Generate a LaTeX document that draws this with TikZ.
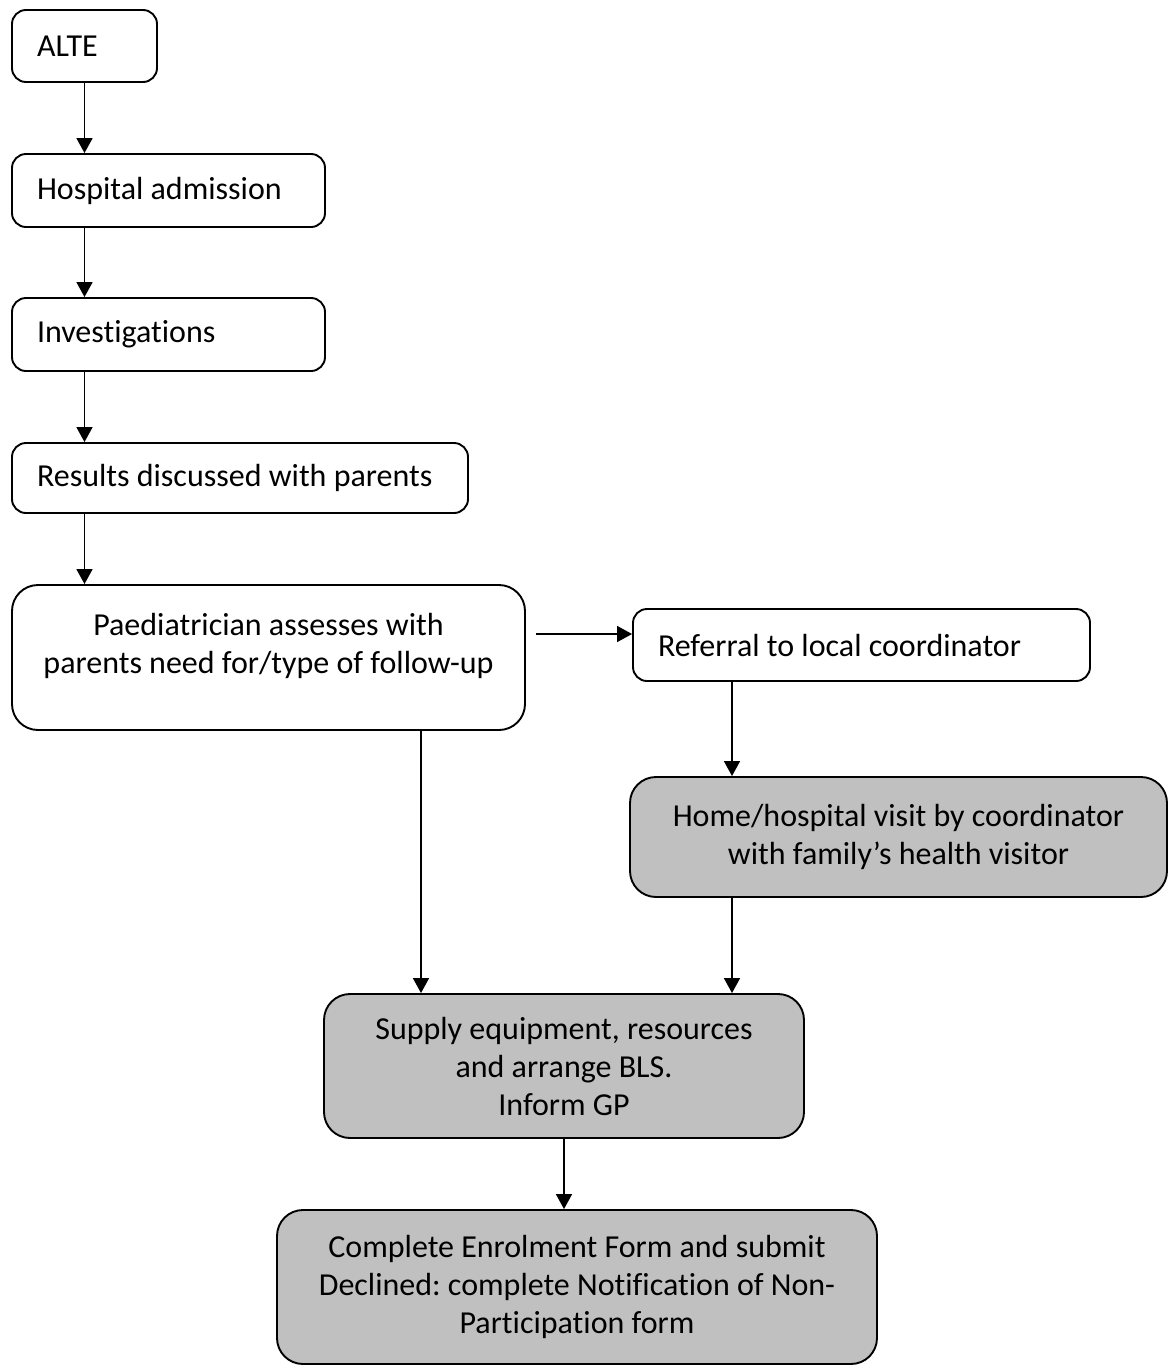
\documentclass[tikz,border=0pt]{standalone}
\usepackage{fontspec}
\setmainfont{Carlito}[Ligatures=NoCommon]
\usetikzlibrary{arrows.meta}
\definecolor{boxgrey}{RGB}{192,192,192}
\frenchspacing

\begin{document}
\begin{tikzpicture}[x=1pt,y=-1pt,
	box/.style={draw, line width=1.9pt, rounded corners=14pt, inner xsep=25pt, inner ysep=0pt,
		font=\fontsize{32}{38}\selectfont},
	leftbox/.style={box, align=flush left},
	bigbox/.style={box, rounded corners=26pt, align=center},
	greybox/.style={bigbox, fill=boxgrey},
	arr/.style={line width=1.6pt, -{Triangle[width=16pt,length=15pt]}}]
	\useasboundingbox (0,0) rectangle (1170,1366);
	% left column
	\node[leftbox, minimum width=145, minimum height=72, text width=95] (alte) at (84.5,46) {ALTE};
	\node[leftbox, minimum width=313, minimum height=73, text width=263] (hosp) at (168.5,190.5) {Hospital admission};
	\node[leftbox, minimum width=313, minimum height=73, text width=263] (inv) at (168.5,334.5) {Investigations};
	\node[leftbox, minimum width=456, minimum height=70, text width=406] (res) at (240,478) {Results discussed with parents};
	\node[bigbox, minimum width=513, minimum height=145, text depth=29pt] (paed) at (268.5,657.5)
		{Paediatrician assesses with\\parents need for/type of follow-up};
	% right column
	\node[leftbox, minimum width=457, minimum height=72, text width=407] (refer) at (861.5,645) {Referral to local coordinator};
	\node[greybox, minimum width=537, minimum height=120] (home) at (898.5,837)
		{Home/hospital visit by coordinator\\with family’s health visitor};
	% bottom
	\node[greybox, minimum width=480, minimum height=144] (supply) at (564,1066)
		{Supply equipment, resources\\and arrange BLS.\\Inform GP};
	\node[greybox, minimum width=600, minimum height=154] (enrol) at (577,1287)
		{Complete Enrolment Form and submit\\Declined: complete Notification of Non-\\Participation form};
	% connectors
	\coordinate (gap) at (536,634);
	\coordinate (xr) at (732,0);
	\coordinate (xm) at (421,0);
	\draw[arr] (alte) -- (hosp.north -| alte);
	\draw[arr] (hosp.south -| alte) -- (inv.north -| alte);
	\draw[arr] (inv.south -| alte) -- (res.north -| alte);
	\draw[arr] (res.south -| alte) -- (paed.north -| alte);
	\draw[arr] (gap) -- (gap -| refer.west);
	\draw[arr] (refer.south -| xr) -- (home.north -| xr);
	\draw[arr] (paed.south -| xm) -- (supply.north -| xm);
	\draw[arr] (home.south -| xr) -- (supply.north -| xr);
	\draw[arr] (supply.south) -- (supply.south |- enrol.north);
\end{tikzpicture}
\end{document}
